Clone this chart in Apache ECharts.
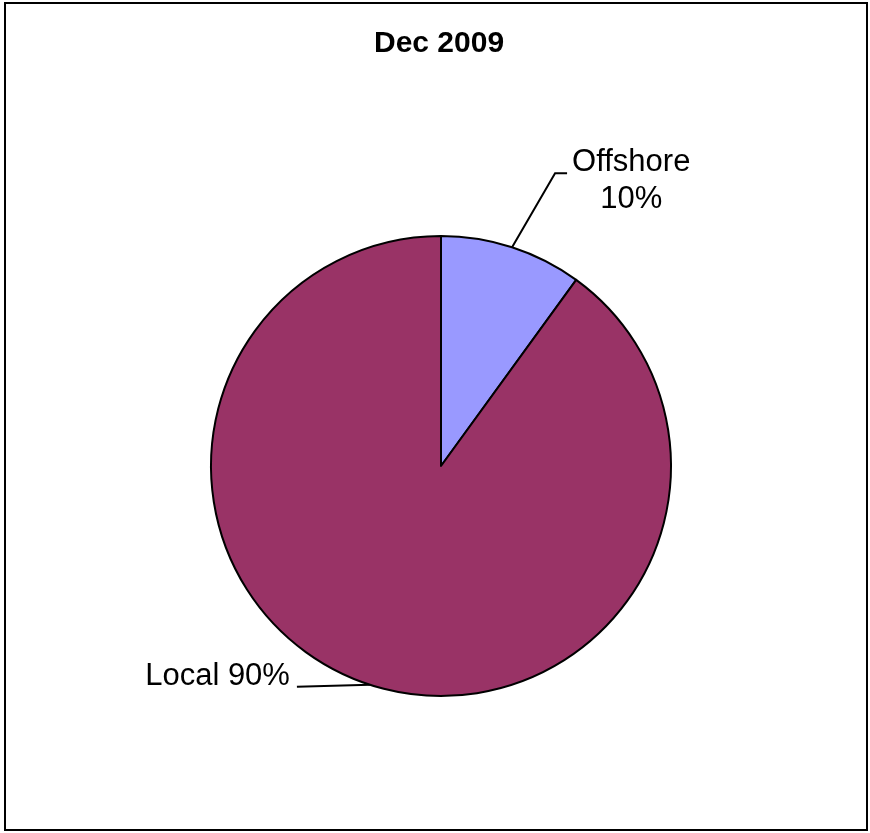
<!DOCTYPE html>
<html>
<head>
<meta charset="utf-8">
<script src="https://cdn.jsdelivr.net/npm/echarts@6/dist/echarts.min.js"></script>
<style>
  html, body { margin: 0; padding: 0; background: #fff; }
  #chart { width: 870px; height: 833px; }
</style>
</head>
<body>
<div id="chart"></div>
<script>
// Data
const categories = ['Offshore', 'Local'];
const values = [10, 90];
const colors = ['#9999FF', '#993366'];
const chartTitle = 'Dec 2009';

const chart = echarts.init(document.getElementById('chart'));

const option = {
  animation: false,
  title: {
    text: chartTitle,
    left: 374,
    top: 29,
    padding: 0,
    textStyle: {
      fontFamily: 'Liberation Sans, Arial, sans-serif',
      fontSize: 30,
      fontWeight: 'bold',
      color: '#000'
    }
  },
  graphic: [{
    type: 'rect',
    shape: { x: 5, y: 3, width: 862, height: 827 },
    style: { fill: 'none', stroke: '#000', lineWidth: 2 },
    silent: true
  }],
  series: [{
    type: 'pie',
    center: [441, 466],
    radius: 230,
    startAngle: 90,
    clockwise: true,
    avoidLabelOverlap: false,
    emphasis: { disabled: true },
    itemStyle: { borderColor: '#000', borderWidth: 2 },
    label: {
      show: true,
      position: 'outside',
      fontFamily: 'Liberation Sans, Arial, sans-serif',
      fontSize: 31,
      lineHeight: 37,
      color: '#000',
      formatter: (p) => p.dataIndex === 0
        ? p.name + '\n' + Math.round(p.percent) + '%'
        : p.name + ' ' + Math.round(p.percent) + '%'
    },
    labelLine: {
      show: true,
      length: 20,
      length2: 20,
      lineStyle: { color: '#000', width: 2 }
    },
    labelLayout: (p) => {
      const s = p.labelLinePoints && p.labelLinePoints[0];
      if (!s) return {};
      if (p.dataIndex === 0) {
        const bend = [s[0] + 43, s[1] - 74];
        const end = [bend[0] + 12, bend[1]];
        return {
          x: end[0] + 5 + p.labelRect.width / 2,
          y: end[1] + 8,
          align: 'center',
          verticalAlign: 'middle',
          labelLinePoints: [s, bend, end]
        };
      }
      const end = [s[0] - 73, s[1] + 2];
      return {
        x: end[0] - 7,
        y: end[1] - 10,
        align: 'right',
        verticalAlign: 'middle',
        labelLinePoints: [s, end]
      };
    },
    data: categories.map((name, i) => ({
      name,
      value: values[i],
      itemStyle: { color: colors[i] }
    }))
  }]
};

chart.setOption(option);
</script>
</body>
</html>
